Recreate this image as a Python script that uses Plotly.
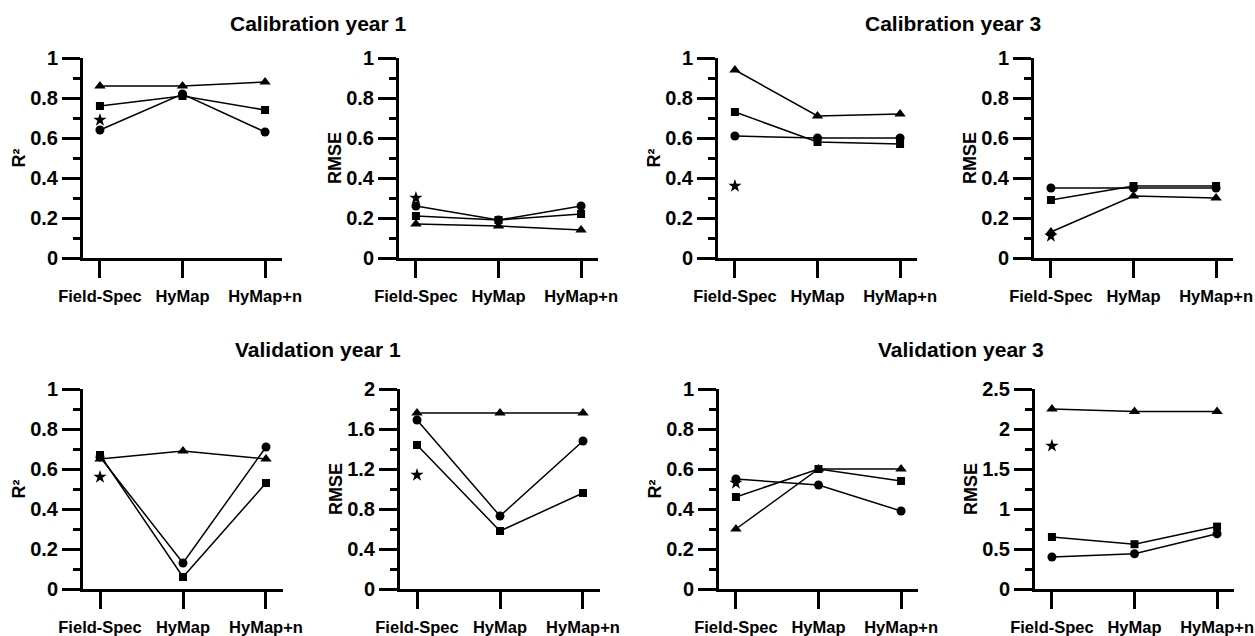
import plotly.graph_objects as go

categories = ["Field-Spec", "HyMap", "HyMap+n"]

# Calibration year 1
cal1_r2_triangle = [0.86, 0.86, 0.88]
cal1_r2_square = [0.76, 0.81, 0.74]
cal1_r2_circle = [0.64, 0.82, 0.63]
cal1_r2_star = [0.69]
cal1_rmse_triangle = [0.17, 0.16, 0.14]
cal1_rmse_square = [0.21, 0.19, 0.22]
cal1_rmse_circle = [0.26, 0.19, 0.26]
cal1_rmse_star = [0.30]
# Calibration year 3
cal3_r2_triangle = [0.94, 0.71, 0.72]
cal3_r2_square = [0.73, 0.58, 0.57]
cal3_r2_circle = [0.61, 0.60, 0.60]
cal3_r2_star = [0.36]
cal3_rmse_triangle = [0.13, 0.31, 0.30]
cal3_rmse_square = [0.29, 0.36, 0.36]
cal3_rmse_circle = [0.35, 0.35, 0.35]
cal3_rmse_star = [0.11]
# Validation year 1
val1_r2_triangle = [0.65, 0.69, 0.65]
val1_r2_square = [0.67, 0.06, 0.53]
val1_r2_circle = [0.66, 0.13, 0.71]
val1_r2_star = [0.56]
val1_rmse_triangle = [1.76, 1.76, 1.76]
val1_rmse_square = [1.44, 0.58, 0.96]
val1_rmse_circle = [1.69, 0.73, 1.48]
val1_rmse_star = [1.14]
# Validation year 3
val3_r2_triangle = [0.30, 0.60, 0.60]
val3_r2_square = [0.46, 0.60, 0.54]
val3_r2_circle = [0.55, 0.52, 0.39]
val3_r2_star = [0.53]
val3_rmse_triangle = [2.25, 2.22, 2.22]
val3_rmse_square = [0.65, 0.56, 0.78]
val3_rmse_circle = [0.40, 0.44, 0.69]
val3_rmse_star = [1.79]

titles = ["Calibration year 1", "Calibration year 3", "Validation year 1", "Validation year 3"]

W, H = 1255, 636
FONT = "Liberation Sans, Arial, Helvetica, sans-serif"

panels = [
    dict(s=(cal1_r2_triangle, cal1_r2_square, cal1_r2_circle, cal1_r2_star),
         px=(83, 282), py=(58, 258), yr=2, ytitle="R²"),
    dict(s=(cal1_rmse_triangle, cal1_rmse_square, cal1_rmse_circle, cal1_rmse_star),
         px=(399, 598), py=(58, 258), yr=2, ytitle="RMSE"),
    dict(s=(cal3_r2_triangle, cal3_r2_square, cal3_r2_circle, cal3_r2_star),
         px=(718, 917), py=(58, 258), yr=2, ytitle="R²"),
    dict(s=(cal3_rmse_triangle, cal3_rmse_square, cal3_rmse_circle, cal3_rmse_star),
         px=(1034, 1233), py=(58, 258), yr=2, ytitle="RMSE"),
    dict(s=(val1_r2_triangle, val1_r2_square, val1_r2_circle, val1_r2_star),
         px=(83, 283), py=(389, 589), yr=2, ytitle="R²"),
    dict(s=(val1_rmse_triangle, val1_rmse_square, val1_rmse_circle, val1_rmse_star),
         px=(400, 600), py=(389, 589), yr=3, ytitle="RMSE"),
    dict(s=(val3_r2_triangle, val3_r2_square, val3_r2_circle, val3_r2_star),
         px=(719, 918), py=(389, 589), yr=2, ytitle="R²"),
    dict(s=(val3_rmse_triangle, val3_rmse_square, val3_rmse_circle, val3_rmse_star),
         px=(1035, 1234), py=(389, 589), yr=4, ytitle="RMSE"),
]

yscales = {
    2: dict(range=[0, 1], dtick=0.2, minor=0.1),
    3: dict(range=[0, 2], dtick=0.4, minor=0.2),
    4: dict(range=[0, 2.5], dtick=0.5, minor=0.25),
}

symbols = ["triangle-up", "square", "circle"]
sizes = [10, 8, 9]

xpos = list(range(len(categories)))

fig = go.Figure()
layout = dict(
    width=W, height=H, margin=dict(l=0, r=0, t=0, b=0),
    paper_bgcolor="white", plot_bgcolor="white", showlegend=False,
    font=dict(family=FONT, color="black"),
)

for i, p in enumerate(panels):
    n = i + 1
    xa = "x" if n == 1 else f"x{n}"
    ya = "y" if n == 1 else f"y{n}"
    for k in range(3):
        fig.add_trace(go.Scatter(
            x=xpos, y=p["s"][k], xaxis=xa, yaxis=ya, mode="lines+markers",
            line=dict(color="black", width=1.5),
            marker=dict(symbol=symbols[k], size=sizes[k], color="black"),
            cliponaxis=False,
        ))
    fig.add_trace(go.Scatter(
        x=xpos[:1], y=p["s"][3], xaxis=xa, yaxis=ya, mode="markers",
        marker=dict(symbol="star", size=10, color="black"), cliponaxis=False,
    ))
    ys = yscales[p["yr"]]
    x0, x1 = p["px"]
    y0, y1 = p["py"]
    xkey = "xaxis" if n == 1 else f"xaxis{n}"
    ykey = "yaxis" if n == 1 else f"yaxis{n}"
    layout[xkey] = dict(
        domain=[x0 / W, x1 / W], anchor=ya, range=[-0.205, 2.205],
        tickvals=xpos, ticktext=categories, ticks="outside", ticklen=17,
        tickwidth=3, tickcolor="black", showline=True, linewidth=3,
        linecolor="black", showgrid=False, zeroline=False, automargin=False,
        ticklabeloverflow="allow", ticklabelstandoff=4,
        tickfont=dict(family=FONT, size=16.5, color="black", weight="bold"),
    )
    layout[ykey] = dict(
        domain=[1 - y1 / H, 1 - y0 / H], anchor=xa, range=ys["range"],
        dtick=ys["dtick"], tick0=0, ticks="outside", ticklen=18, tickwidth=3,
        tickcolor="black", showline=True, linewidth=3, linecolor="black",
        showgrid=False, zeroline=False, automargin=False,
        ticklabeloverflow="allow",
        tickfont=dict(family=FONT, size=20, color="black", weight="bold"),
        minor=dict(dtick=ys["minor"], tick0=0, ticks="outside", ticklen=7,
                   tickwidth=3, tickcolor="black", showgrid=False),
        title=dict(text=p["ytitle"], standoff=0,
                   font=dict(family=FONT, size=18, color="black", weight="bold")),
    )

title_pos = [(228, 23, "left"), (863, 23, "left"), (233, 349, "left"), (1046, 349, "right")]
annotations = []
for t, (tx, ty, anc) in zip(titles, title_pos):
    annotations.append(dict(
        text=t, x=tx / W, y=1 - ty / H, xref="paper", yref="paper",
        xanchor=anc, yanchor="middle", showarrow=False,
        font=dict(family=FONT, size=21, color="black", weight="bold"),
    ))
layout["annotations"] = annotations

fig.update_layout(**layout)
fig.write_html(
    "out.html",
    config={"displayModeBar": False},
    post_script="document.body.style.margin='0';document.body.style.padding='0';"
                "document.body.style.overflow='hidden';",
)
